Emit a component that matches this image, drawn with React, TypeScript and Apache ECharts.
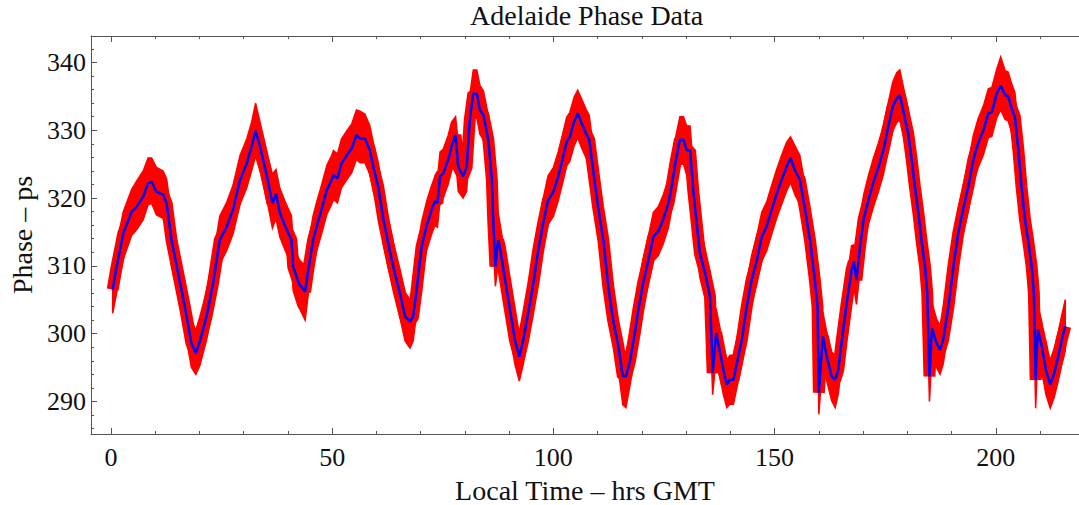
import React, { useEffect, useRef } from "react";
import * as echarts from "echarts";

const hours = [
  0.4, 1.3, 2.8, 4.7, 5.8, 7.3, 8.4, 9.2, 10.3, 11.8, 12.6, 13.7, 15.2, 16.7, 18.2, 19.2, 20.1, 21.6, 23.1, 24.6,
  26.2, 27.6, 29.2, 30.7, 31.8, 32.7, 33.7, 34.6, 35.6, 36.5, 37.3, 38.2, 39.3, 40.8, 41.2, 42.3, 42.7, 43.9, 44.6, 45.7,
  46.5, 47.6, 48.8, 49.9, 50.3, 51.2, 52.1, 53.3, 54.4, 55.5, 56.3, 57.4, 58.5, 59.3, 60.4, 61.6, 62.7, 63.8, 65.3, 66.5,
  67.6, 68.3, 69.1, 70.2, 71.4, 72.5, 73.2, 73.8, 74.4, 75.1, 76.2, 77.0, 77.9, 78.5, 79.6, 80.4, 81.1, 81.9, 82.7, 83.4,
  84.2, 85.3, 86.1, 86.4, 86.9, 87.5, 87.9, 89.1, 90.2, 91.3, 92.3, 93.2, 94.3, 95.5, 96.6, 97.7, 98.8, 100.0, 101.1, 102.2,
  103.0, 103.7, 104.7, 105.5, 106.4, 107.4, 108.1, 109.0, 110.1, 111.3, 112.4, 113.5, 114.7, 115.7, 116.4, 117.3, 118.4, 119.2, 120.3, 121.5,
  122.6, 123.7, 124.8, 126.0, 126.7, 127.7, 128.6, 129.4, 130.1, 130.9, 131.6, 132.8, 133.1, 134.3, 135.4, 136.0, 136.8, 137.7, 138.4, 139.2,
  139.9, 140.7, 141.4, 142.6, 143.7, 144.8, 146.0, 147.1, 148.2, 149.3, 150.5, 151.6, 152.7, 153.6, 154.6, 155.7, 156.9, 158.0, 159.1, 159.7,
  160.0, 160.9, 161.8, 162.9, 163.7, 164.4, 165.2, 166.3, 167.4, 167.9, 168.5, 169.3, 170.1, 171.2, 172.3, 173.5, 174.6, 175.7, 176.7, 177.6,
  178.3, 179.2, 180.2, 181.0, 181.7, 182.5, 183.2, 184.0, 184.5, 185.0, 185.6, 186.6, 187.4, 188.1, 189.3, 190.4, 191.5, 192.6, 193.8, 194.9,
  196.0, 197.2, 198.3, 199.1, 200.2, 201.1, 202.1, 202.8, 203.6, 204.3, 205.1, 205.8, 206.6, 207.3, 208.1, 208.6, 209.0, 209.5, 210.4, 211.3,
  212.3, 213.2, 214.1, 214.9, 215.7,
];

const smoothPhase = [
  306.5, 309.9, 314.8, 318.0, 318.7, 320.2, 322.2, 322.4, 320.9, 320.5, 319.2, 313.8, 308.9, 304.0, 298.6, 297.1, 298.9, 302.5, 307.5, 313.8,
  315.8, 318.3, 322.7, 325.1, 327.6, 329.9, 327.6, 325.1, 322.2, 319.2, 320.6, 317.8, 316.0, 313.8, 309.9, 307.7, 307.2, 306.2, 309.4, 313.8,
  315.8, 318.3, 321.2, 322.7, 323.4, 322.9, 325.1, 326.3, 327.3, 329.3, 328.8, 328.8, 327.1, 324.6, 321.7, 316.8, 313.3, 309.9, 306.0, 302.5,
  301.8, 302.5, 306.5, 312.8, 316.0, 318.3, 319.5, 319.3, 323.2, 323.6, 325.6, 327.6, 329.3, 324.6, 323.2, 324.6, 331.5, 335.4, 335.4, 333.0,
  332.2, 328.6, 322.7, 316.8, 309.9, 313.8, 312.8, 307.9, 303.5, 299.1, 296.6, 299.1, 303.0, 307.5, 312.4, 316.3, 319.7, 320.9, 323.2, 326.1,
  328.3, 329.0, 331.3, 332.5, 331.0, 329.5, 328.6, 324.1, 318.7, 313.8, 307.0, 302.0, 298.1, 293.7, 293.7, 295.9, 300.1, 303.5, 307.5, 310.9,
  314.3, 315.1, 316.8, 319.2, 321.7, 325.6, 328.6, 328.6, 327.1, 327.0, 321.2, 313.8, 311.9, 308.9, 305.5, 294.2, 300.1, 297.1, 294.7, 292.5,
  293.2, 293.2, 295.4, 299.1, 304.0, 307.9, 310.9, 314.3, 315.8, 318.2, 320.7, 322.7, 324.6, 325.9, 324.1, 322.7, 318.3, 313.8, 307.9, 304.0,
  291.3, 299.6, 296.6, 293.7, 293.2, 294.7, 299.1, 304.5, 309.4, 310.6, 307.9, 312.8, 316.8, 319.7, 322.2, 324.6, 327.1, 330.5, 333.5, 334.7,
  335.2, 332.5, 329.5, 325.6, 321.7, 317.8, 313.8, 309.9, 306.0, 293.7, 300.8, 298.6, 297.6, 299.1, 304.0, 309.9, 314.8, 318.3, 321.7, 325.6,
  328.1, 330.0, 332.5, 332.7, 335.4, 336.6, 335.2, 335.0, 333.2, 332.0, 327.1, 321.7, 316.8, 313.8, 309.9, 306.0, 293.2, 300.6, 298.1, 294.7,
  292.5, 294.2, 296.6, 299.1, 301.1,
];

const rawUpper = [
  310.0, 313.2, 318.0, 321.3, 322.5, 324.0, 325.9, 325.9, 324.5, 324.0, 322.8, 317.5, 312.5, 307.6, 302.0, 300.5, 302.5, 306.2, 311.2, 317.3,
  319.4, 321.9, 326.3, 328.7, 331.2, 334.0, 331.2, 328.7, 325.8, 323.5, 324.2, 321.4, 319.6, 317.4, 313.5, 311.3, 310.8, 310.0, 313.0, 317.4,
  319.4, 321.9, 324.8, 326.3, 327.0, 326.5, 328.7, 329.9, 330.9, 333.0, 332.8, 332.4, 330.7, 328.2, 325.3, 320.4, 316.9, 313.5, 309.6, 306.1,
  305.0, 306.1, 310.1, 316.4, 319.6, 321.9, 323.1, 322.9, 326.8, 327.2, 329.2, 331.2, 332.0, 328.2, 326.8, 328.2, 335.1, 338.9, 338.9, 336.6,
  335.8, 332.2, 326.3, 320.4, 313.5, 317.8, 316.4, 311.5, 307.1, 302.7, 300.0, 302.7, 306.6, 311.1, 316.0, 319.9, 323.3, 324.5, 326.8, 329.7,
  331.9, 332.6, 334.9, 335.9, 334.6, 333.1, 332.2, 327.7, 322.3, 317.4, 310.6, 305.6, 301.7, 297.3, 297.3, 299.5, 303.7, 307.1, 311.1, 314.5,
  317.9, 318.7, 320.4, 322.8, 325.3, 329.2, 332.0, 332.0, 330.7, 330.6, 324.8, 317.4, 315.5, 312.5, 309.1, 298.0, 303.7, 300.7, 298.3, 296.1,
  296.8, 296.8, 299.0, 302.7, 307.6, 311.5, 314.5, 317.9, 319.4, 321.8, 324.3, 326.3, 328.2, 329.0, 327.7, 326.3, 321.9, 317.4, 311.5, 307.6,
  295.0, 303.2, 300.2, 297.3, 296.8, 298.3, 302.7, 308.1, 313.0, 313.1, 311.5, 316.4, 320.4, 323.3, 325.8, 328.2, 330.7, 334.1, 337.1, 338.5,
  338.9, 336.1, 333.1, 329.2, 325.3, 321.4, 317.4, 313.5, 309.6, 297.3, 304.4, 302.2, 301.2, 302.7, 307.6, 313.5, 318.4, 321.9, 325.3, 329.2,
  331.7, 333.6, 336.1, 336.3, 339.0, 340.8, 338.8, 338.6, 336.8, 335.6, 330.7, 325.3, 320.4, 317.4, 313.5, 309.6, 296.8, 304.2, 301.7, 298.3,
  296.1, 297.8, 300.2, 302.7, 305.0,
];

const rawLower = [
  303.0, 306.0, 311.0, 314.5, 315.3, 316.8, 319.0, 319.2, 317.5, 317.0, 315.5, 310.0, 305.3, 300.4, 295.0, 294.0, 295.3, 299.0, 303.8, 310.2,
  312.3, 314.7, 319.1, 321.5, 324.0, 326.2, 324.0, 321.5, 318.6, 315.6, 317.0, 314.2, 312.4, 310.2, 306.3, 304.1, 303.6, 302.0, 305.8, 310.2,
  312.2, 314.7, 317.6, 319.1, 319.8, 319.3, 321.5, 322.7, 323.7, 325.7, 325.2, 325.2, 323.5, 321.0, 318.1, 313.2, 309.7, 306.3, 302.4, 298.9,
  297.9, 298.9, 302.9, 309.2, 312.4, 314.7, 315.9, 315.7, 319.6, 320.0, 322.0, 324.0, 325.7, 321.0, 320.0, 321.0, 327.9, 331.8, 331.8, 329.4,
  328.6, 325.0, 319.1, 313.2, 307.0, 310.2, 309.2, 304.3, 299.9, 295.5, 293.0, 295.5, 299.4, 303.9, 308.8, 312.7, 316.1, 317.3, 319.6, 322.5,
  324.7, 325.4, 327.7, 328.9, 327.4, 325.9, 325.0, 320.5, 315.1, 310.2, 303.4, 298.4, 294.5, 289.5, 289.1, 292.3, 296.5, 299.9, 303.9, 307.3,
  310.7, 311.5, 313.2, 315.6, 318.1, 322.0, 325.0, 325.0, 323.5, 323.4, 317.6, 310.2, 308.3, 305.3, 301.9, 291.0, 296.5, 293.5, 291.1, 289.1,
  289.6, 289.6, 291.8, 295.5, 300.4, 304.3, 307.3, 310.7, 312.2, 314.6, 317.1, 319.1, 321.0, 322.3, 320.5, 319.1, 314.7, 310.2, 304.3, 300.4,
  288.1, 296.0, 293.0, 290.1, 289.1, 291.1, 295.5, 300.9, 305.8, 307.0, 304.3, 309.2, 313.2, 316.1, 318.6, 321.0, 323.5, 326.9, 329.9, 331.1,
  331.6, 328.9, 325.9, 322.0, 318.1, 314.2, 310.2, 306.3, 302.4, 290.0, 297.2, 295.0, 294.0, 295.5, 300.4, 306.3, 311.2, 314.7, 318.1, 322.0,
  324.5, 326.4, 328.9, 329.1, 331.8, 333.0, 331.6, 331.4, 329.6, 328.4, 323.5, 318.1, 313.2, 310.2, 306.3, 302.4, 289.0, 297.0, 294.5, 291.1,
  289.0, 290.6, 293.0, 295.5, 297.5,
];

const xMajorTicks = [0, 50, 100, 150, 200];
const xMinorTicks = [10, 20, 30, 40, 60, 70, 80, 90, 110, 120, 130, 140, 160, 170, 180, 190, 210];
const yMajorTicks = [290, 300, 310, 320, 330, 340];
const yMinorTicks = [286, 288, 292, 294, 296, 298, 302, 304, 306, 308, 312, 314, 316, 318, 322, 324, 326, 328, 332, 334, 336, 338, 342];

const FONT = "'Liberation Serif', 'Times New Roman', serif";
const AXIS_COLOR = "#555555";

export default function App() {
  const ref = useRef<HTMLDivElement>(null);

  useEffect(() => {
    document.body.style.margin = "0";
    if (!ref.current) return;
    const chart = echarts.init(ref.current, undefined, { renderer: "svg" });

    const X_MIN = -4.5;
    const X_MAX = 218.8;
    const Y_MIN = 285.2;
    const Y_MAX = 343.9;

    const baseX = {
      type: "value" as const,
      min: X_MIN,
      max: X_MAX,
      splitLine: { show: false },
      gridIndex: 0,
    };
    const baseY = {
      type: "value" as const,
      min: Y_MIN,
      max: Y_MAX,
      splitLine: { show: false },
      gridIndex: 0,
    };

    const linePairs = hours.map((h, i) => [h, smoothPhase[i]]);

    chart.setOption({
      animation: false,
      backgroundColor: "#ffffff",
      title: {
        text: "Adelaide Phase Data",
        left: 470,
        top: 1,
        padding: 0,
        textStyle: { fontFamily: FONT, fontSize: 28, fontWeight: "normal", color: "#111" },
      },
      grid: { left: 91, right: 0, top: 36, bottom: 71, containLabel: false, outerBoundsMode: "none" },
      xAxis: [
        {
          ...baseX,
          position: "bottom",
          axisLine: { show: true, onZero: false, lineStyle: { color: AXIS_COLOR, width: 1 } },
          axisTick: { show: true, inside: true, length: 6, customValues: xMajorTicks, lineStyle: { color: AXIS_COLOR } },
          axisLabel: { show: true, customValues: xMajorTicks, fontFamily: FONT, fontSize: 26, color: "#111", margin: 10 },
          name: "Local Time – hrs GMT",
          nameLocation: "middle",
          nameGap: 42,
          nameTextStyle: { fontFamily: FONT, fontSize: 28, lineHeight: 28, color: "#111" },
        },
        {
          ...baseX,
          position: "bottom",
          axisLine: { show: false, onZero: false },
          axisTick: { show: true, inside: true, length: 3, customValues: xMinorTicks, lineStyle: { color: AXIS_COLOR } },
          axisLabel: { show: false },
        },
        {
          ...baseX,
          position: "top",
          axisLine: { show: true, onZero: false, lineStyle: { color: AXIS_COLOR, width: 1 } },
          axisTick: { show: true, inside: true, length: 6, customValues: xMajorTicks, lineStyle: { color: AXIS_COLOR } },
          axisLabel: { show: false },
        },
        {
          ...baseX,
          position: "top",
          axisLine: { show: false, onZero: false },
          axisTick: { show: true, inside: true, length: 3, customValues: xMinorTicks, lineStyle: { color: AXIS_COLOR } },
          axisLabel: { show: false },
        },
      ],
      yAxis: [
        {
          ...baseY,
          position: "left",
          axisLine: { show: true, onZero: false, lineStyle: { color: AXIS_COLOR, width: 1 } },
          axisTick: { show: true, inside: true, length: 6, customValues: yMajorTicks, lineStyle: { color: AXIS_COLOR } },
          axisLabel: { show: true, customValues: yMajorTicks, fontFamily: FONT, fontSize: 26, color: "#111", margin: 5 },
          name: "Phase – ps",
          nameLocation: "middle",
          nameRotate: 90,
          nameGap: 55,
          nameTextStyle: { fontFamily: FONT, fontSize: 28, color: "#111" },
        },
        {
          ...baseY,
          position: "left",
          axisLine: { show: false, onZero: false },
          axisTick: { show: true, inside: true, length: 3, customValues: yMinorTicks, lineStyle: { color: AXIS_COLOR } },
          axisLabel: { show: false },
        },
      ],
      series: [
        {
          type: "custom",
          name: "raw band",
          xAxisIndex: 0,
          yAxisIndex: 0,
          z: 1,
          silent: true,
          clip: true,
          data: [[hours[0], smoothPhase[0]]],
          renderItem: (_params: any, api: any) => {
            const pts: number[][] = [];
            for (let i = 0; i < hours.length; i++) pts.push(api.coord([hours[i], rawUpper[i]]));
            for (let i = hours.length - 1; i >= 0; i--) pts.push(api.coord([hours[i], rawLower[i]]));
            return {
              type: "polygon",
              shape: { points: pts },
              style: { fill: "#ff0000", stroke: "#ff0000", lineWidth: 1.5 },
            };
          },
        },
        {
          type: "line",
          name: "raw",
          xAxisIndex: 0,
          yAxisIndex: 0,
          z: 2,
          data: linePairs,
          showSymbol: false,
          symbol: "none",
          lineStyle: { color: "#ff0000", width: 12 },
          silent: true,
        },
        {
          type: "line",
          name: "smoothed",
          xAxisIndex: 0,
          yAxisIndex: 0,
          z: 3,
          data: linePairs,
          showSymbol: false,
          symbol: "none",
          lineStyle: { color: "#0000ff", width: 2.5 },
          silent: true,
        },
      ],
    });

    return () => chart.dispose();
  }, []);

  return <div ref={ref} style={{ width: 1079, height: 505 }} />;
}
